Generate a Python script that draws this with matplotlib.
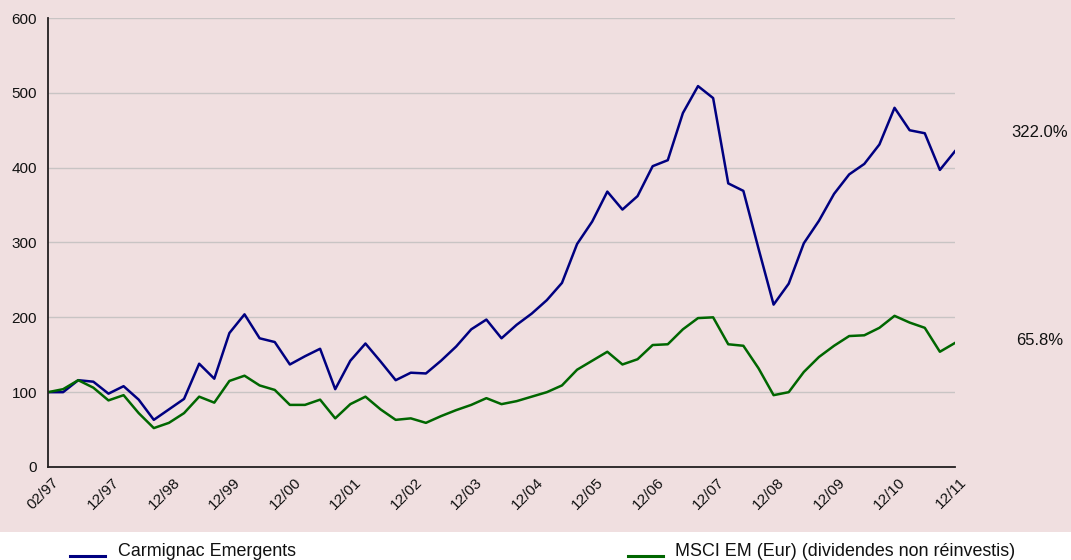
import matplotlib
matplotlib.use("Agg")
import matplotlib.pyplot as plt
from matplotlib.lines import Line2D
from matplotlib.patches import Rectangle
import matplotlib.transforms as mtransforms

plt.rcParams['font.family'] = ['Liberation Sans', 'DejaVu Sans']

# valeurs trimestrielles, base 100 en 02/97
carmignac = [100, 100, 116, 114, 98, 108, 90, 63, 77, 91, 138, 118, 179, 204, 172, 167,
             137, 148, 158, 104, 142, 165, 141, 116, 126, 125, 142, 161, 184, 197, 172, 190,
             205, 223, 246, 298, 328, 368, 344, 362, 402, 410, 473, 509, 493, 379, 369, 292,
             217, 245, 299, 329, 365, 391, 405, 431, 480, 450, 446, 397, 422]
msci = [100, 104, 116, 106, 89, 96, 72, 52, 59, 72, 94, 86, 115, 122, 109, 103,
        83, 83, 90, 65, 84, 94, 77, 63, 65, 59, 68, 76, 83, 92, 84, 88,
        94, 100, 109, 130, 142, 154, 137, 144, 163, 164, 184, 199, 200, 164, 162, 132,
        96, 100, 127, 147, 162, 175, 176, 186, 202, 193, 186, 154, 165.8]
tick_labels = ['02/97', '12/97', '12/98', '12/99', '12/00', '12/01', '12/02', '12/03',
               '12/04', '12/05', '12/06', '12/07', '12/08', '12/09', '12/10', '12/11']
perf_labels = ['322.0%', '65.8%']
names = ['Carmignac Emergents', 'MSCI EM (Eur) (dividendes non réinvestis)']
colors = ['#000080', '#006600']

fig = plt.figure(figsize=(10.71, 5.6), dpi=100, facecolor='white')
fig.add_artist(Rectangle((0, 28 / 560), 1, 1, transform=fig.transFigure,
                         facecolor='#f0dfe0', edgecolor='none', zorder=0))

ax = fig.add_axes([48 / 1071, 93 / 560, 907 / 1071, 449 / 560])
ax.set_facecolor('none')

x = list(range(len(carmignac)))
ax.plot(x, carmignac, color=colors[0], linewidth=1.8, zorder=3)
ax.plot(x, msci, color=colors[1], linewidth=1.8, zorder=3)

ax.set_xlim(0, 60)
ax.set_ylim(0, 600)
ax.set_yticks(range(0, 700, 100))
ax.set_xticks(range(0, 61, 4))
ax.set_xticklabels(tick_labels)

for y in range(100, 700, 100):
    ax.axhline(y, color='#c8c4c4', linewidth=1, zorder=1)

for s in ['top', 'right']:
    ax.spines[s].set_visible(False)
for s in ['left', 'bottom']:
    ax.spines[s].set_color('#231f20')
    ax.spines[s].set_linewidth(1.3)
    ax.spines[s].set_zorder(4)

ax.tick_params(axis='both', length=0, colors='#111111')
ax.tick_params(axis='y', pad=8, labelsize=11)
ax.tick_params(axis='x', pad=6, labelsize=11)

offset = mtransforms.ScaledTranslation(4 / 100, 0, fig.dpi_scale_trans)
for lab in ax.get_xticklabels():
    lab.set_rotation(45)
    lab.set_ha('right')
    lab.set_va('top')
    lab.set_rotation_mode('anchor')
    lab.set_transform(lab.get_transform() + offset)

# performances a droite
tr = mtransforms.blended_transform_factory(fig.transFigure, ax.transData)
ax.text(1040 / 1071, 447, perf_labels[0], transform=tr,
        ha='center', va='center', fontsize=12, color='#111111')
ax.text(1040 / 1071, 169, perf_labels[1], transform=tr,
        ha='center', va='center', fontsize=12, color='#111111')

# legende
fig.add_artist(Line2D([70 / 1071, 105 / 1071], [4 / 560, 4 / 560], transform=fig.transFigure,
                      color=colors[0], linewidth=2.2))
fig.text(118 / 1071, 4 / 560, names[0], ha='left', va='baseline', fontsize=12.9, color='#111111')
fig.add_artist(Line2D([628 / 1071, 663 / 1071], [4 / 560, 4 / 560], transform=fig.transFigure,
                      color=colors[1], linewidth=2.2))
fig.text(675 / 1071, 4 / 560, names[1], ha='left', va='baseline', fontsize=12.9, color='#111111')

fig.savefig('out.png', dpi=100, facecolor=fig.get_facecolor())
